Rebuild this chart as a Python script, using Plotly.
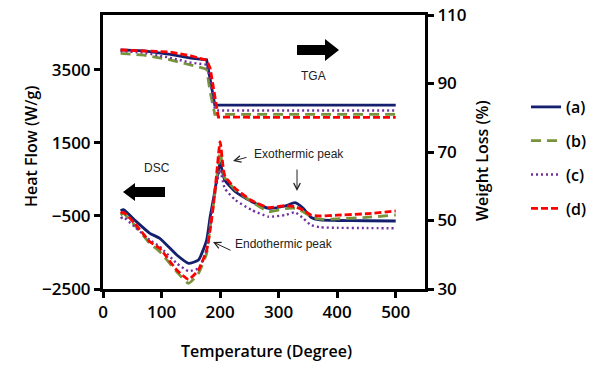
import plotly.graph_objects as go

# ---------------- data ----------------
labels = ["(a)", "(b)", "(c)", "(d)"]
colors = ["#14206e", "#77933c", "#7030a0", "#ff0000"]

tga_temp = [30, 70, 115, 150, 177, 183, 191, 197, 300, 400, 500]
tga_a = [99.8, 99.5, 98.5, 97.4, 96.9, 91.5, 83.7, 83.7, 83.7, 83.7, 83.7]
tga_b = [98.8, 98.3, 96.9, 95.4, 94.2, 87.6, 81.0, 81.0, 81.0, 81.0, 81.0]
tga_c = [99.5, 99.0, 97.5, 96.1, 95.5, 91.0, 82.6, 82.1, 82.1, 82.1, 82.1]
tga_d = [99.8, 99.6, 99.2, 98.1, 96.8, 94.5, 87.0, 80.2, 80.1, 80.1, 80.1]

dsc_temp = [30, 35, 54, 80, 97, 126, 146, 163, 177, 183, 189, 195, 200, 208,
            226, 254, 283, 311, 328, 342, 355, 371, 400, 450, 500]
dsc_a = [-357, -330, -611, -975, -1113, -1569, -1797, -1706, -1159, -521, 0, 560, 957, 483,
         163, -110, -291, -228, -138, -291, -537, -611, -625, -632, -639]
dsc_b = [-475, -440, -748, -1248, -1479, -2027, -2344, -2070, -1523, -795, -154, 650, 1258, 550,
         220, -110, -380, -300, -291, -384, -520, -590, -580, -540, -475]
dsc_c = [-565, -540, -795, -1159, -1342, -1797, -2008, -1934, -1433, -795, -64, 450, 757, 256,
         -64, -338, -521, -475, -400, -565, -748, -811, -825, -832, -839]
dsc_d = [-428, -400, -702, -1205, -1386, -1980, -2234, -1980, -1433, -885, -154, 800, 1532, 600,
         250, -80, -270, -220, -247, -338, -475, -502, -480, -440, -365]

x_ticks = [0, 100, 200, 300, 400, 500]
hf_ticks = [-2500, -500, 1500, 3500]
wl_ticks = [30, 50, 70, 90, 110]

tga_series = [tga_a, tga_b, tga_c, tga_d]
dsc_series = [dsc_a, dsc_b, dsc_c, dsc_d]

# ---------------- layout helpers ----------------
W, H = 589, 379
L, R, T, B = 103, 425, 15, 289


def px(xp):
    return (xp - L) / (R - L)


def py(yp):
    return (B - yp) / (B - T)


dashes = ["solid", "10px,6px", "2px,3px", "7px,3px"]
widths = [2.8, 2.8, 2.4, 2.8]

fig = go.Figure()
for i in range(4):
    fig.add_trace(go.Scatter(
        x=dsc_temp, y=dsc_series[i], mode="lines", name=labels[i],
        legendgroup=labels[i], yaxis="y",
        line=dict(color=colors[i], width=widths[i], dash=dashes[i],
                  shape="spline", smoothing=0.5),
    ))
    fig.add_trace(go.Scatter(
        x=tga_temp, y=tga_series[i], mode="lines", name=labels[i],
        legendgroup=labels[i], showlegend=False, yaxis="y2",
        line=dict(color=colors[i], width=widths[i], dash=dashes[i]),
    ))

tick_font = dict(family="Open Sans", size=17, color="black", weight=600)

fig.update_layout(
    width=W, height=H,
    margin=dict(l=L, r=W - R, t=T, b=H - B, autoexpand=False),
    paper_bgcolor="white", plot_bgcolor="white",
    xaxis=dict(range=[0, 550], tickvals=x_ticks, showgrid=False, zeroline=False,
               showline=True, linecolor="black", linewidth=3, mirror=True,
               ticks="outside", ticklen=6, tickwidth=2.5, tickcolor="black",
               tickfont=tick_font, automargin=False),
    yaxis=dict(range=[-2500, 5000], tickvals=hf_ticks, showgrid=False, zeroline=False,
               showline=True, linecolor="black", linewidth=3,
               ticks="outside", ticklen=6, tickwidth=2.5, tickcolor="black",
               tickfont=tick_font, automargin=False),
    yaxis2=dict(range=[30, 110], tickvals=wl_ticks, overlaying="y", side="right",
                showgrid=False, zeroline=False,
                showline=True, linecolor="black", linewidth=3,
                ticks="outside", ticklen=6, tickwidth=2.5, tickcolor="black",
                tickfont=tick_font, automargin=False),
    legend=dict(x=px(526), y=py(90), xanchor="left", yanchor="top",
                font=dict(family="Open Sans", size=16, color="black", weight=600),
                tracegroupgap=10, itemwidth=30, bgcolor="rgba(0,0,0,0)"),
    showlegend=True,
)

# axis titles
title_font = dict(family="Open Sans", size=16, color="black", weight=600)
fig.add_annotation(text="Heat Flow (W/g)", x=px(18), y=py(147), xref="paper", yref="paper",
                   textangle=-90, showarrow=False, font=title_font)
fig.add_annotation(text="Weight Loss (%)", x=px(495), y=py(161), xref="paper", yref="paper",
                   textangle=-90, showarrow=False, font=title_font)
fig.add_annotation(text="Temperature (Degree)", x=px(266), y=py(364), xref="paper", yref="paper",
                   showarrow=False, font=title_font)

# labels
small = dict(family="Liberation Sans", size=12, color="#222222")
fig.add_annotation(text="TGA", x=px(313), y=py(67), xref="paper", yref="paper",
                   showarrow=False, font=small)
fig.add_annotation(text="DSC", x=px(142), y=py(168), xref="paper", yref="paper",
                   showarrow=False, font=small)
fig.add_annotation(text="Exothermic peak", x=px(252), y=py(154), xref="paper", yref="paper",
                   xanchor="left", showarrow=False, font=small)
fig.add_annotation(text="Endothermic peak", x=px(233), y=py(253), xref="paper", yref="paper",
                   xanchor="left", showarrow=False, font=small)

# thin pointer arrows
arrow_kw = dict(xref="paper", yref="paper", axref="pixel", ayref="pixel", text="",
                showarrow=True, arrowhead=5, arrowsize=1.3, arrowwidth=1, arrowcolor="#222222")
fig.add_annotation(x=px(233), y=py(161), ax=15, ay=-4, **arrow_kw)
fig.add_annotation(x=px(213), y=py(242), ax=19, ay=9, **arrow_kw)
fig.add_annotation(x=px(297), y=py(191), ax=0, ay=-23, **arrow_kw)


# block arrows
def path(points):
    s = "M " + " L ".join(f"{px(a):.5f},{py(b):.5f}" for a, b in points) + " Z"
    return s


tga_arrow = [(297, 45), (325, 45), (325, 39), (339, 50), (325, 61), (325, 55), (297, 55)]
dsc_arrow = [(123, 192), (135, 183), (135, 187), (165, 187), (165, 197), (135, 197), (135, 201)]
for pts in (tga_arrow, dsc_arrow):
    fig.add_shape(type="path", path=path(pts), xref="paper", yref="paper",
                  fillcolor="black", line=dict(color="black", width=0))

fig.write_html("out.html")
